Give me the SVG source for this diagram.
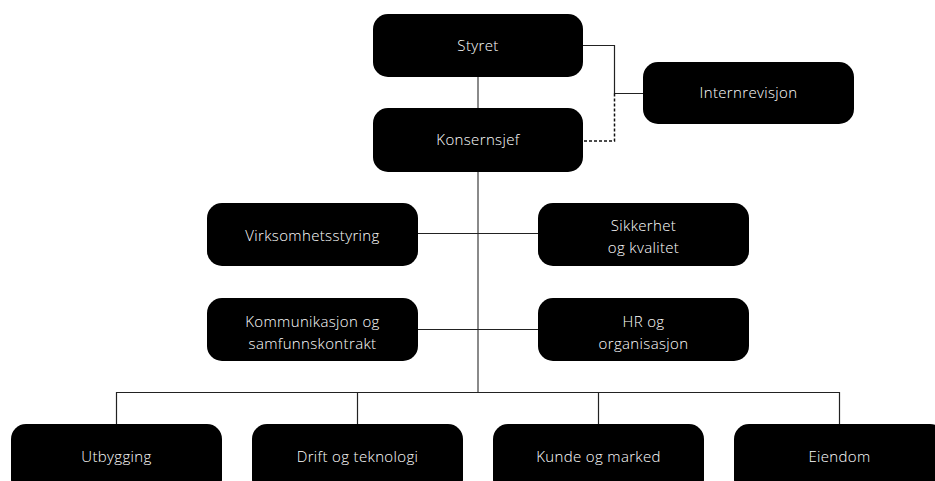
<svg xmlns="http://www.w3.org/2000/svg" width="935" height="481" viewBox="0 0 935 481">
<style>
.box{fill:#000}
.t{fill:#fff;font-family:"Open Sans","Noto Sans",sans-serif;font-size:15px;font-weight:300;letter-spacing:0.35px;text-anchor:middle}
.ln{fill:none;stroke:#222;stroke-width:1.2}
.gr{fill:none;stroke:#8a8a8a;stroke-width:2}
.ds{fill:none;stroke:#111;stroke-width:1.5;stroke-dasharray:3 2}
</style>
<g id="connectors">
<line class="gr" x1="478" y1="77" x2="478" y2="393"/>
<polyline class="ln" points="583,45.5 614.5,45.5 614.5,93.5 643,93.5"/>
<polyline class="ds" points="614.5,93.5 614.5,141 583,141"/>
<line class="ln" x1="418" y1="233.5" x2="538" y2="233.5"/>
<line class="ln" x1="418" y1="329.5" x2="538" y2="329.5"/>
<polyline class="ln" points="116.5,424 116.5,392.5 839.5,392.5 839.5,424"/>
<line class="ln" x1="357.5" y1="392.5" x2="357.5" y2="424"/>
<line class="ln" x1="598.5" y1="392.5" x2="598.5" y2="424"/>
</g>
<g id="styret"><rect class="box" x="373" y="14" width="210" height="63" rx="15"/><text class="t" x="478" y="51">Styret</text></g>
<g id="konsernsjef"><rect class="box" x="373" y="108" width="210" height="64" rx="15"/><text class="t" x="478" y="145">Konsernsjef</text></g>
<g id="internrevisjon"><rect class="box" x="643" y="62" width="211" height="62" rx="15"/><text class="t" x="748.5" y="98">Internrevisjon</text></g>
<g id="virksomhetsstyring"><rect class="box" x="207" y="203" width="211" height="63" rx="15"/><text class="t" x="312.5" y="240.5">Virksomhetsstyring</text></g>
<g id="sikkerhet"><rect class="box" x="538" y="203" width="211" height="63" rx="15"/><text class="t" x="643.5" y="231">Sikkerhet</text><text class="t" x="643.5" y="253">og kvalitet</text></g>
<g id="kommunikasjon"><rect class="box" x="207" y="298" width="211" height="63" rx="15"/><text class="t" x="312.5" y="326.5">Kommunikasjon og</text><text class="t" x="312.5" y="348.5">samfunnskontrakt</text></g>
<g id="hr"><rect class="box" x="538" y="298" width="211" height="63" rx="15"/><text class="t" x="643.5" y="326.5">HR og</text><text class="t" x="643.5" y="348.5">organisasjon</text></g>
<g id="utbygging"><rect class="box" x="11" y="424" width="211" height="70" rx="15"/><text class="t" x="116.5" y="462">Utbygging</text></g>
<g id="drift"><rect class="box" x="252" y="424" width="211" height="70" rx="15"/><text class="t" x="357.5" y="462">Drift og teknologi</text></g>
<g id="kunde"><rect class="box" x="493" y="424" width="211" height="70" rx="15"/><text class="t" x="598.5" y="462">Kunde og marked</text></g>
<g id="eiendom"><rect class="box" x="734" y="424" width="211" height="70" rx="15"/><text class="t" x="839.5" y="462">Eiendom</text></g>
</svg>
